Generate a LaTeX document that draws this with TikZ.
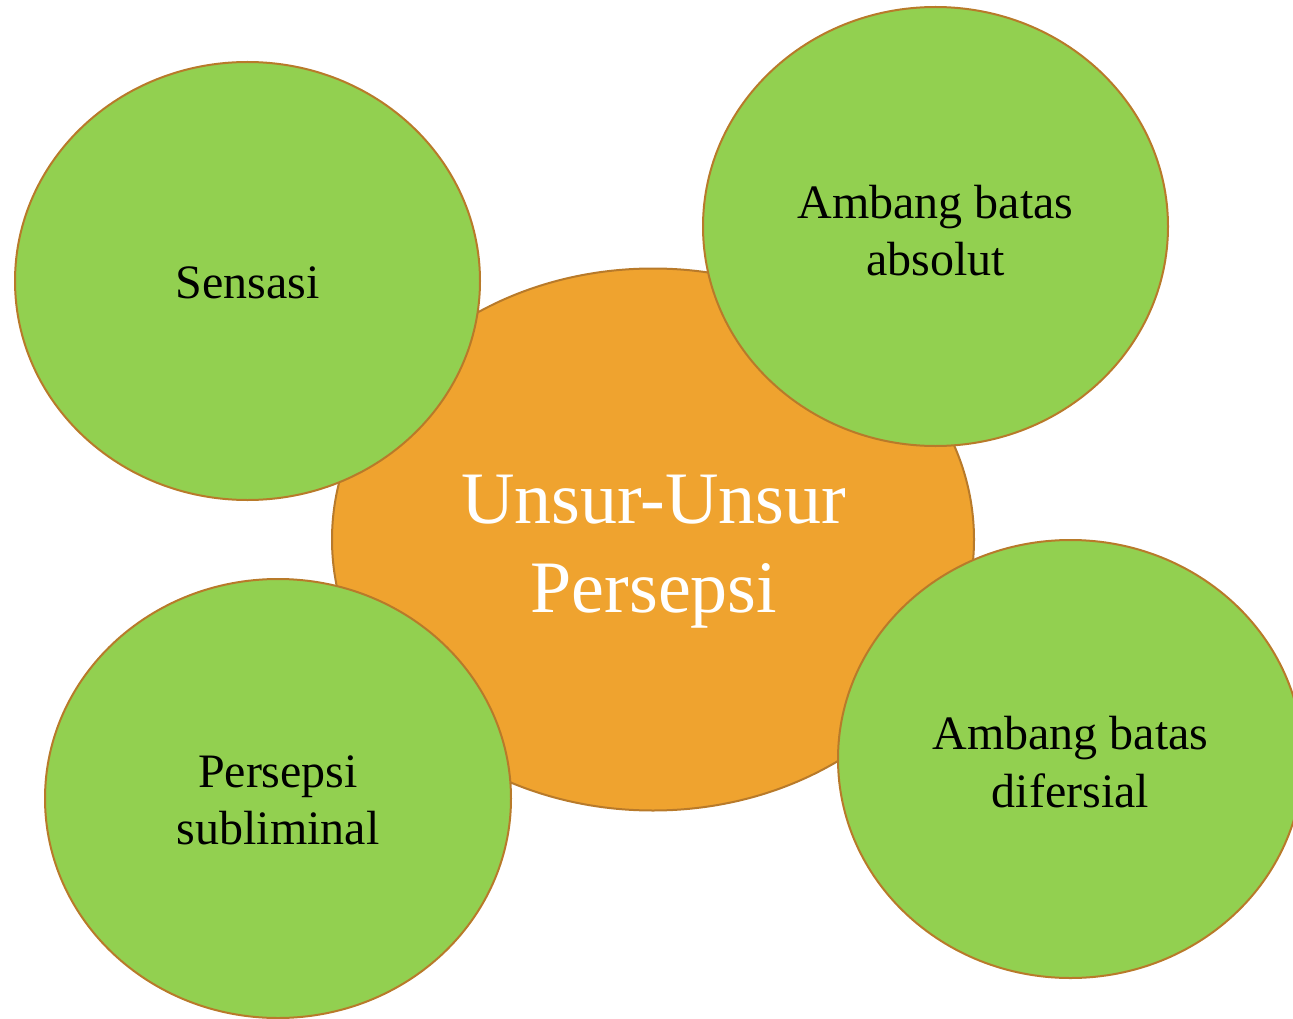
\documentclass[tikz,border=0pt]{standalone}
\usepackage{fontspec}
\setmainfont{Liberation Serif}
\usetikzlibrary{shapes.geometric}
\definecolor{orangefill}{RGB}{239,163,47}
\definecolor{greenfill}{RGB}{146,208,80}
\definecolor{rimcol}{RGB}{184,122,42}
\tikzset{
  bubble/.style={ellipse, draw=rimcol, line width=2pt, fill=greenfill, inner sep=0pt},
  hub/.style={ellipse, draw=rimcol, line width=2pt, fill=orangefill, inner sep=0pt},
  smalltext/.style={align=center, font=\fontsize{48}{57.6}\selectfont, text=black},
  bigtext/.style={align=center, font=\fontsize{74}{88.8}\selectfont, text=white}
}
\begin{document}
\begin{tikzpicture}[x=1pt,y=-1pt]
\useasboundingbox (0,0) rectangle (1293,1019);
\node[hub, minimum width=642pt, minimum height=542pt] (hub) at (653,539.5) {};
\node[bubble, minimum width=465pt, minimum height=438pt] (sens) at (247.5,281) {};
\node[bubble, minimum width=465pt, minimum height=439pt] (abs) at (935.5,226.5) {};
\node[bubble, minimum width=466pt, minimum height=439pt] (sub) at (278,798.5) {};
\node[bubble, minimum width=465pt, minimum height=438pt] (dif) at (1070.5,759) {};
\node[bigtext] (hubtxt) at (654,551.5) {Unsur-Unsur\\Persepsi};
\node[smalltext] (senstxt) at (247.5,283) {Sensasi};
\node[smalltext] (abstxt) at (935.5,230.5) {Ambang batas\\absolut};
\node[smalltext] (subtxt) at (278,800.5) {Persepsi\\subliminal};
\node[smalltext] (diftxt) at (1070.5,762) {Ambang batas\\difersial};
\end{tikzpicture}
\end{document}
